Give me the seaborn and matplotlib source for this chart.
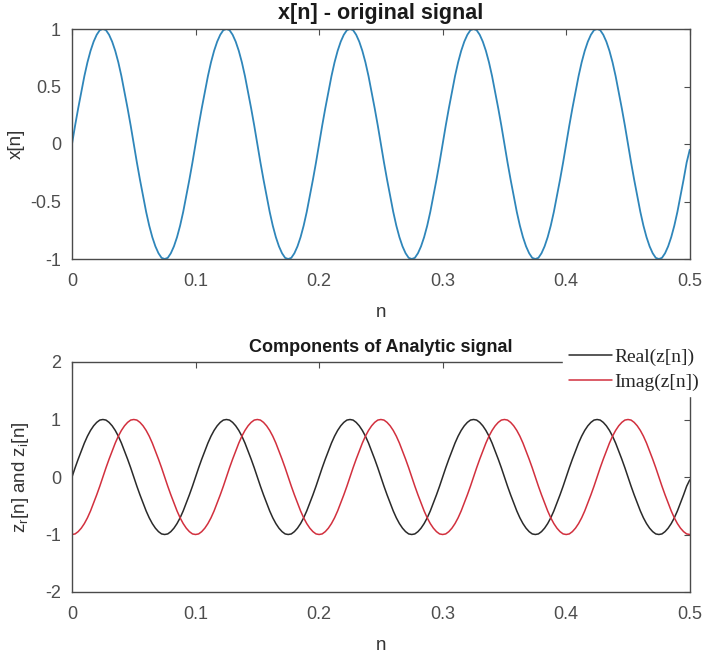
import numpy as np
import pandas as pd
import matplotlib
matplotlib.use("Agg")
import matplotlib.pyplot as plt
import seaborn as sns

# ---- data (5 periods over n = 0..0.5) ----
x_signal = [
    0, .16, .31, .45, .59, .71, .81, .89, .95, .99, 1, .99, .95, .89, .81, .71, .59, .45, .31, .16,
    0, -.16, -.31, -.45, -.59, -.71, -.81, -.89, -.95, -.99, -1, -.99, -.95, -.89, -.81, -.71, -.59, -.45, -.31, -.16,
    0, .16, .31, .45, .59, .71, .81, .89, .95, .99, 1, .99, .95, .89, .81, .71, .59, .45, .31, .16,
    0, -.16, -.31, -.45, -.59, -.71, -.81, -.89, -.95, -.99, -1, -.99, -.95, -.89, -.81, -.71, -.59, -.45, -.31, -.16,
    0, .16, .31, .45, .59, .71, .81, .89, .95, .99, 1, .99, .95, .89, .81, .71, .59, .45, .31, .16,
    0, -.16, -.31, -.45, -.59, -.71, -.81, -.89, -.95, -.99, -1, -.99, -.95, -.89, -.81, -.71, -.59, -.45, -.31, -.16,
    0, .16, .31, .45, .59, .71, .81, .89, .95, .99, 1, .99, .95, .89, .81, .71, .59, .45, .31, .16,
    0, -.16, -.31, -.45, -.59, -.71, -.81, -.89, -.95, -.99, -1, -.99, -.95, -.89, -.81, -.71, -.59, -.45, -.31, -.16,
    0, .16, .31, .45, .59, .71, .81, .89, .95, .99, 1, .99, .95, .89, .81, .71, .59, .45, .31, .16,
    0, -.16, -.31, -.45, -.59, -.71, -.81, -.89, -.95, -.99, -1, -.99, -.95, -.89, -.81, -.71, -.59, -.45, -.31, -.16,
    -0.05,
]
z_real = list(x_signal)
z_imag = [
    -1, -.99, -.95, -.89, -.81, -.71, -.59, -.45, -.31, -.16, 0, .16, .31, .45, .59, .71, .81, .89, .95, .99,
    1, .99, .95, .89, .81, .71, .59, .45, .31, .16, 0, -.16, -.31, -.45, -.59, -.71, -.81, -.89, -.95, -.99,
    -1, -.99, -.95, -.89, -.81, -.71, -.59, -.45, -.31, -.16, 0, .16, .31, .45, .59, .71, .81, .89, .95, .99,
    1, .99, .95, .89, .81, .71, .59, .45, .31, .16, 0, -.16, -.31, -.45, -.59, -.71, -.81, -.89, -.95, -.99,
    -1, -.99, -.95, -.89, -.81, -.71, -.59, -.45, -.31, -.16, 0, .16, .31, .45, .59, .71, .81, .89, .95, .99,
    1, .99, .95, .89, .81, .71, .59, .45, .31, .16, 0, -.16, -.31, -.45, -.59, -.71, -.81, -.89, -.95, -.99,
    -1, -.99, -.95, -.89, -.81, -.71, -.59, -.45, -.31, -.16, 0, .16, .31, .45, .59, .71, .81, .89, .95, .99,
    1, .99, .95, .89, .81, .71, .59, .45, .31, .16, 0, -.16, -.31, -.45, -.59, -.71, -.81, -.89, -.95, -.99,
    -1, -.99, -.95, -.89, -.81, -.71, -.59, -.45, -.31, -.16, 0, .16, .31, .45, .59, .71, .81, .89, .95, .99,
    1, .99, .95, .89, .81, .71, .59, .45, .31, .16, 0, -.16, -.31, -.45, -.59, -.71, -.81, -.89, -.95, -.99,
    -1,
]
n_start, n_end = 0.0, 0.5
top_title = "x[n] - original signal"
bottom_title = "Components of Analytic signal"
legend_labels = ["Real(z[n])", "Imag(z[n])"]
top_yticks = [-1, -0.5, 0, 0.5, 1]
top_yticklabels = ["-1", "-0.5", "0", "0.5", "1"]
bottom_yticks = [-2, -1, 0, 1, 2]
bottom_yticklabels = ["-2", "-1", "0", "1", "2"]
xticks = [0, 0.1, 0.2, 0.3, 0.4, 0.5]
xticklabels = ["0", "0.1", "0.2", "0.3", "0.4", "0.5"]

n = np.linspace(n_start, n_end, len(x_signal))
df_top = pd.DataFrame({"n": n, "x": x_signal})
df_bot = pd.concat([
    pd.DataFrame({"n": n, "v": z_real, "comp": legend_labels[0]}),
    pd.DataFrame({"n": n, "v": z_imag, "comp": legend_labels[1]}),
])

sns.set_style("white")
plt.rcParams["font.family"] = ["Liberation Sans", "DejaVu Sans"]
plt.rcParams["axes.unicode_minus"] = False
plt.rcParams["mathtext.default"] = "regular"

fig = plt.figure(figsize=(7.2, 6.55), dpi=100)
ax1 = fig.add_axes([0.1, 1 - 259 / 655, 0.858, 230 / 655])
ax2 = fig.add_axes([0.1, 1 - 592 / 655, 0.858, 230 / 655])

tick_col = "#4d4d4d"

sns.lineplot(data=df_top, x="n", y="x", ax=ax1, color="#2f86ba", linewidth=1.3)
sns.lineplot(data=df_bot, x="n", y="v", hue="comp", ax=ax2,
             palette={legend_labels[0]: "#2a2a2a", legend_labels[1]: "#d2303e"},
             linewidth=1.1, legend=False)

for ax in (ax1, ax2):
    ax.set_xlim(n_start, n_end)
    ax.set_xticks(xticks)
    ax.set_xticklabels(xticklabels)
    ax.tick_params(direction="in", length=4, width=0.8, colors=tick_col,
                   labelsize=13, top=True, right=True)
    ax.tick_params(axis="x", pad=10)
    ax.tick_params(axis="y", pad=8)
    for s in ax.spines.values():
        s.set_color("#4a4a4a")
        s.set_linewidth(1.0)
    ax.set_xlabel("n", fontsize=13.5, color="#333333", labelpad=10)

ax1.set_ylim(-1, 1)
ax1.set_yticks(top_yticks)
ax1.set_yticklabels(top_yticklabels)
ax1.set_ylabel("x[n]", fontsize=13.5, color="#333333", labelpad=4)
ax1.set_title(top_title, fontsize=15.5, fontweight="bold", color="#1a1a1a", pad=7)

ax2.set_ylim(-2, 2)
ax2.set_yticks(bottom_yticks)
ax2.set_yticklabels(bottom_yticklabels)
ax2.set_ylabel(r"z$_r$[n] and z$_i$[n]", fontsize=13.5, color="#333333", labelpad=10)
ax2.set_title(bottom_title, fontsize=13, fontweight="bold", color="#1a1a1a", pad=7)

handles = [plt.Line2D([], [], color="#2a2a2a", linewidth=1.1),
           plt.Line2D([], [], color="#d2303e", linewidth=1.1)]
leg = fig.legend(handles, legend_labels, loc="upper left",
                 bbox_to_anchor=(563 / 720, 1 - 342 / 655),
                 frameon=True, facecolor="white", edgecolor="white", framealpha=1,
                 prop={"family": "Liberation Serif", "size": 14},
                 handlelength=2.2, handletextpad=0.15, labelspacing=0.38,
                 borderpad=0.3, borderaxespad=0)
leg.set_zorder(10)

fig.savefig("out.png", dpi=100)
